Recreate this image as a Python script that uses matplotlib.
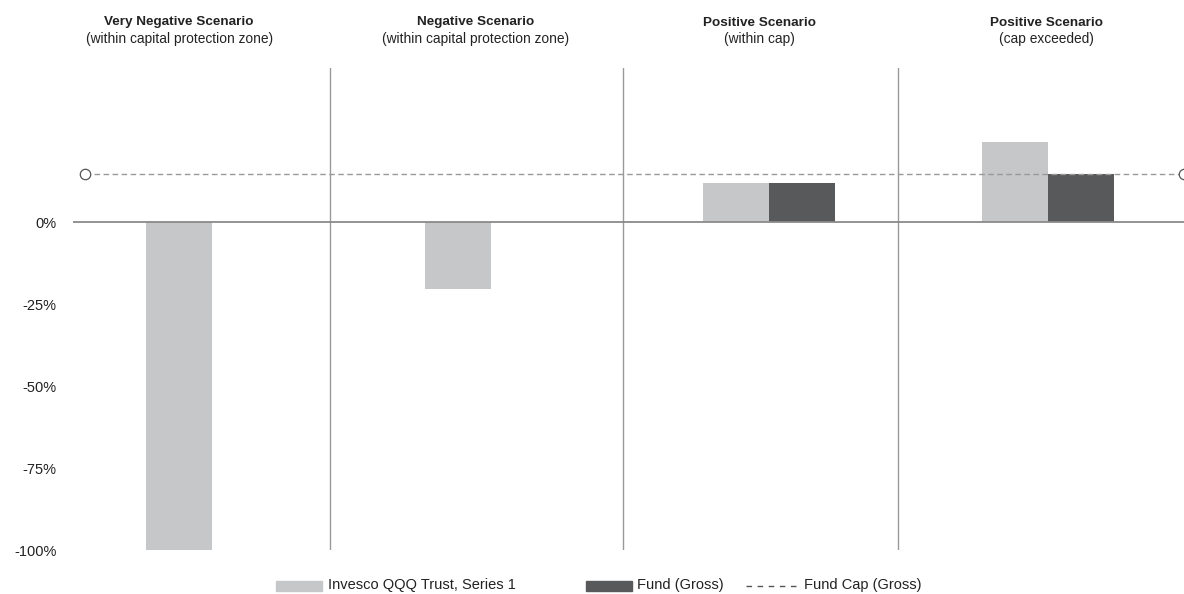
import matplotlib
matplotlib.use("Agg")
import matplotlib.pyplot as plt
from matplotlib.patches import Rectangle
from matplotlib.lines import Line2D

plt.rcParams['font.family'] = ['Liberation Sans', 'DejaVu Sans']

# ---- data ----
scenario_titles = ["Very Negative Scenario", "Negative Scenario",
                   "Positive Scenario", "Positive Scenario"]
scenario_subtitles = ["(within capital protection zone)", "(within capital protection zone)",
                      "(within cap)", "(cap exceeded)"]
qqq_values = [-100.0, -20.4, 11.8, 24.5]
fund_values = [0.0, 0.0, 11.8, 14.8]
fund_cap = 14.8
y_ticks = [0, -25, -50, -75, -100]
y_ticklabels = ["0%", "-25%", "-50%", "-75%", "-100%"]
legend_labels = ["Invesco QQQ Trust, Series 1", "Fund (Gross)", "Fund Cap (Gross)"]

c_qqq = "#c6c7c9"
c_fund = "#58595b"
c_line = "#8a8a8a"
c_text = "#222222"

W, H = 1184, 594
fig = plt.figure(figsize=(W / 100, H / 100), dpi=100)
ax = fig.add_axes([73 / W, (H - 550) / H, (1184 - 73) / W, (550 - 68) / H])

x = list(range(len(qqq_values)))
bw = 0.237
ax.bar([i - bw / 2 for i in x], qqq_values, width=bw, color=c_qqq, zorder=2)
ax.bar([i + bw / 2 for i in x], fund_values, width=bw, color=c_fund, zorder=2)

ax.set_xlim(-0.499, 3.488)
ax.set_ylim(-100, 47)

# zero line
ax.axhline(0, color=c_line, lw=1.3, zorder=3)

# separators
for sx in [0.423, 1.475, 2.461]:
    ax.axvline(sx, color="#9a9a9a", lw=1.0, zorder=1)

# cap line
cap_x = [-0.456, 3.488]
ax.plot(cap_x, [fund_cap, fund_cap], color="#999999", lw=1.0, dashes=(4, 2.5), zorder=4)
ax.plot(cap_x, [fund_cap, fund_cap], linestyle="none", marker="o", ms=7.5,
        mfc="white", mec="#555555", mew=0.9, zorder=5, clip_on=False)

ax.set_yticks(y_ticks)
ax.set_yticklabels(y_ticklabels)
ax.set_xticks([])
ax.tick_params(axis="y", length=0, pad=12, labelsize=10.5, colors=c_text)
for s in ax.spines.values():
    s.set_visible(False)

# titles
title_x = [-0.118, 0.947, 1.966, 2.996]
for tx, t, st in zip(title_x, scenario_titles, scenario_subtitles):
    xf = ax.transData.transform((tx, 0))[0] / W
    fig.text(xf, 1 - 22.5 / H, t, ha="center", va="center", fontsize=9.7,
             fontweight="bold", color=c_text)
    fig.text(xf, 1 - 38.5 / H, st, ha="center", va="center", fontsize=9.9,
             color=c_text)

# legend (manual, laid out left to right)
fig.canvas.draw()
renderer = fig.canvas.get_renderer()
ly = 585.5
cx = 276.0


def add_text(xpx, s):
    t = fig.text(xpx / W, 1 - ly / H, s, ha="left", va="center",
                 fontsize=10.5, color=c_text)
    bb = t.get_window_extent(renderer=renderer)
    return xpx + bb.width


fig.patches.append(Rectangle((cx / W, 1 - (ly + 5) / H), 46 / W, 10 / H,
                             transform=fig.transFigure, color=c_qqq))
cx += 46 + 6
cx = add_text(cx, legend_labels[0])
cx += 70
fig.patches.append(Rectangle((cx / W, 1 - (ly + 5) / H), 46 / W, 10 / H,
                             transform=fig.transFigure, color=c_fund))
cx += 46 + 5
cx = add_text(cx, legend_labels[1])
cx += 22
fig.lines.append(Line2D([cx / W, (cx + 52) / W], [1 - ly / H, 1 - ly / H],
                        transform=fig.transFigure, color="#555555", lw=1.0,
                        dashes=(4, 4)))
cx += 52 + 6
add_text(cx, legend_labels[2])

fig.savefig("out.png", dpi=100)
